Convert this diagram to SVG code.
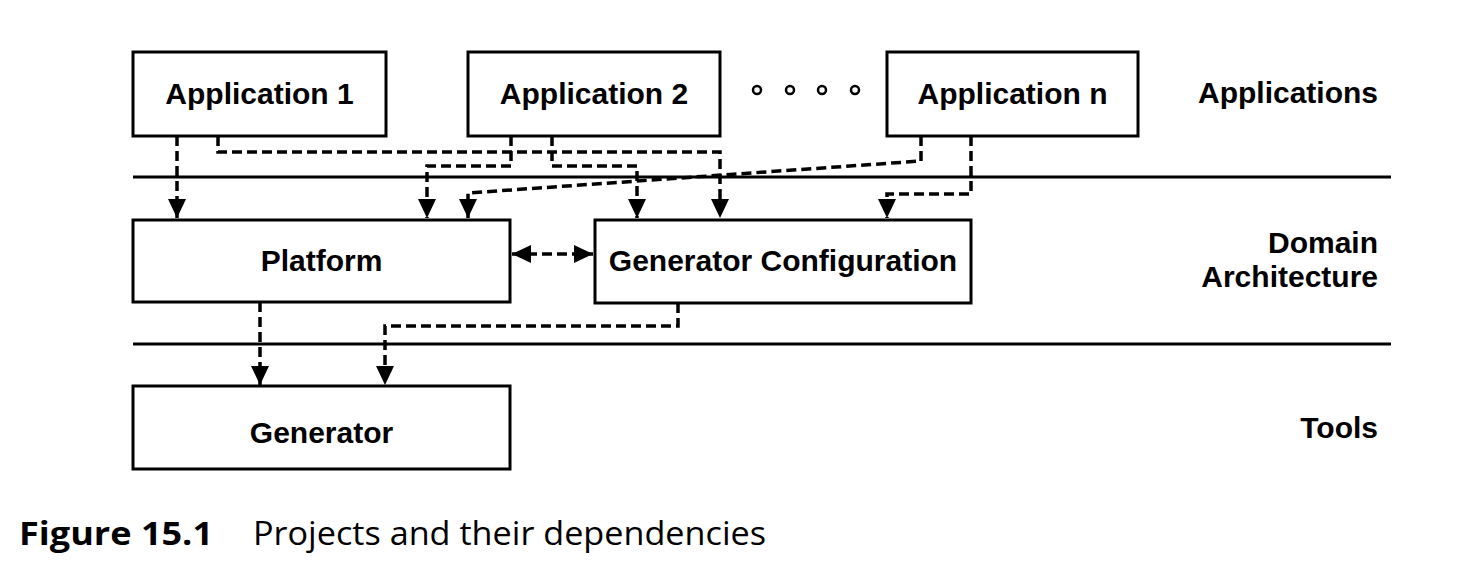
<svg xmlns="http://www.w3.org/2000/svg" width="1458" height="572" viewBox="0 0 1458 572">
<defs>
<style>
.box{fill:#fff;stroke:#000;stroke-width:3}
.lbl{font-family:"Liberation Sans",Arial,Helvetica,sans-serif;font-weight:bold;font-size:30px;fill:#000}
.mid{text-anchor:middle}
.end{text-anchor:end}
.sep{stroke:#000;stroke-width:3;fill:none}
.dep{stroke:#000;stroke-width:3.5;fill:none;stroke-dasharray:10 5;marker-end:url(#arr)}
.dot{fill:#fff;stroke:#000;stroke-width:2.5}
.cap{font-family:"Open Sans","Noto Sans",sans-serif;font-size:32px;fill:#000}
</style>
<marker id="arr" markerUnits="userSpaceOnUse" markerWidth="20" markerHeight="20" viewBox="0 0 20 18" refX="19" refY="9" orient="auto">
<path d="M0,0 L19,9 L0,18 Z" fill="#000"/>
</marker>
<marker id="arrs" markerUnits="userSpaceOnUse" markerWidth="20" markerHeight="20" viewBox="0 0 20 18" refX="19" refY="9" orient="auto-start-reverse">
<path d="M0,0 L19,9 L0,18 Z" fill="#000"/>
</marker>
</defs>
<rect width="1458" height="572" fill="#fff"/>

<g id="separators">
<line class="sep" x1="133" y1="177" x2="1391" y2="177"/>
<line class="sep" x1="133" y1="344" x2="1391" y2="344"/>
</g>

<g id="connectors">
<path class="dep" d="M177,136 V218"/>
<path class="dep" d="M218,136 V152 H720 V218"/>
<path class="dep" d="M511,136 V166 H427 V218"/>
<path class="dep" d="M552,136 V166 H637 V218"/>
<path class="dep" d="M921,136 V161 L468,193 V218"/>
<path class="dep" d="M971,136 V194 H887 V218"/>
<path class="dep" style="marker-start:url(#arrs);marker-end:url(#arrs)" d="M512,254 H593"/>
<path class="dep" d="M260,302 V385"/>
<path class="dep" d="M678,303 V326 H385 V385"/>
</g>

<g id="app1">
<rect class="box" x="133" y="52" width="253" height="84"/>
<text class="lbl mid" x="259.5" y="104">Application 1</text>
</g>
<g id="app2">
<rect class="box" x="468" y="52" width="252" height="84"/>
<text class="lbl mid" x="594" y="104">Application 2</text>
</g>
<g id="ellipsis">
<circle class="dot" cx="757" cy="90" r="4"/>
<circle class="dot" cx="790" cy="90" r="4"/>
<circle class="dot" cx="822" cy="90" r="4"/>
<circle class="dot" cx="855" cy="90" r="4"/>
</g>
<g id="appn">
<rect class="box" x="887" y="52" width="251" height="84"/>
<text class="lbl mid" x="1012.5" y="104">Application n</text>
</g>
<g id="platform">
<rect class="box" x="133" y="220" width="377" height="82"/>
<text class="lbl mid" x="321.5" y="271">Platform</text>
</g>
<g id="genconfig">
<rect class="box" x="595" y="220" width="376" height="83"/>
<text class="lbl mid" x="783" y="271">Generator Configuration</text>
</g>
<g id="generator">
<rect class="box" x="133" y="386" width="377" height="83"/>
<text class="lbl mid" x="321.5" y="443">Generator</text>
</g>

<g id="layers">
<text class="lbl end" x="1378" y="103">Applications</text>
<text class="lbl end" x="1378" y="253">Domain</text>
<text class="lbl end" x="1378" y="287">Architecture</text>
<text class="lbl end" x="1378" y="438">Tools</text>
</g>

<g id="caption">
<text class="cap" x="19" y="545" font-weight="bold" textLength="194" lengthAdjust="spacingAndGlyphs">Figure 15.1</text>
<text class="cap" x="253" y="545" textLength="513" lengthAdjust="spacingAndGlyphs">Projects and their dependencies</text>
</g>
</svg>
